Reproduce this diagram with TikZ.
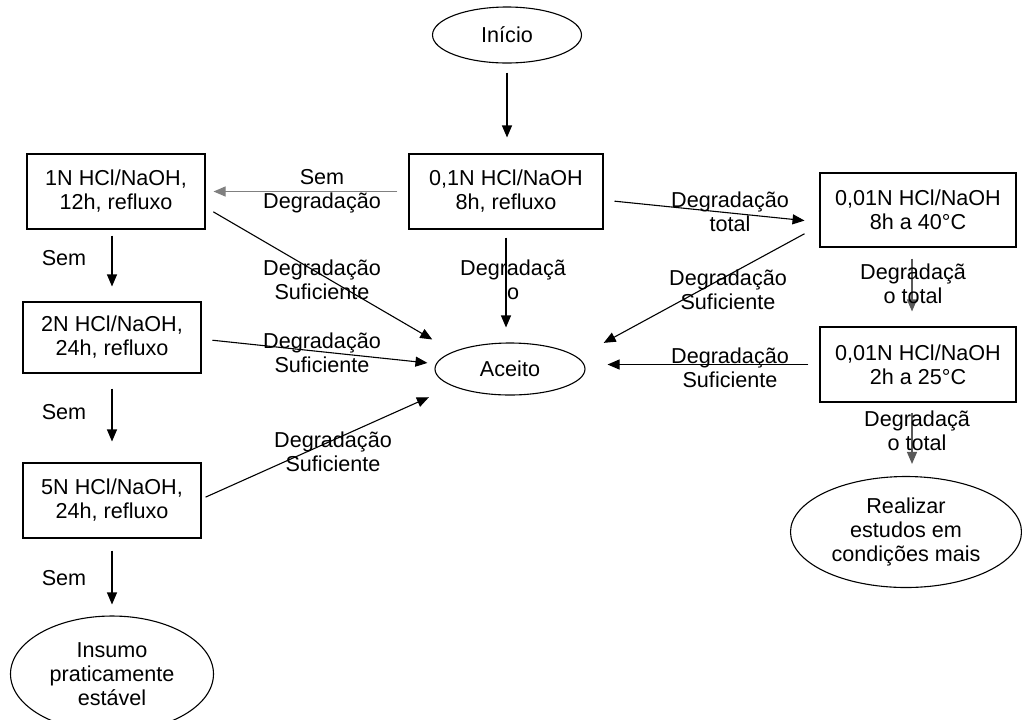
\documentclass[tikz,border=0pt]{standalone}
\usepackage{fontspec}
\setmainfont{Liberation Sans}
\usetikzlibrary{shapes.geometric,arrows.meta}

\begin{document}
\begin{tikzpicture}[x=0.5pt,y=-0.5pt,font=\fontsize{10.8}{12}\selectfont,
  caixa/.style={draw,line width=0.55pt,align=center,minimum width=89pt,minimum height=37.5pt,inner sep=0pt},
  elipse/.style={draw,ellipse,line width=0.55pt,align=center,inner sep=0pt},
  rotulo/.style={align=center,inner sep=0pt},
  seta/.style={line width=0.55pt,-{Triangle[length=6pt,width=5pt]}}]
\useasboundingbox (0,0) rectangle (1022,719);
\node[elipse,minimum width=74.5pt,minimum height=28pt] (inicio) at (507,35) {Início};
\node[caixa,minimum width=97pt] (n01) at (506,191.5) {0,1N HCl/NaOH\\8h, refluxo};
\node[caixa] (n1) at (116,191.5) {1N HCl/NaOH,\\12h, refluxo};
\node[caixa,minimum height=35.5pt] (n2) at (112,337.5) {2N HCl/NaOH,\\24h, refluxo};
\node[caixa] (n5) at (112,500.5) {5N HCl/NaOH,\\24h, refluxo};
\node[elipse,minimum width=101.5pt,minimum height=58pt] (insumo) at (112,674) {Insumo\\praticamente\\estável};
\node[elipse,minimum width=75pt,minimum height=26pt] (aceito) at (510,369) {Aceito};
\node[caixa,minimum width=98pt,minimum height=37pt] (t1) at (918,210) {0,01N HCl/NaOH\\8h a 40°C};
\node[caixa,minimum width=98pt,minimum height=37.5pt] (t2) at (918,364.5) {0,01N HCl/NaOH\\2h a 25°C};
\node[elipse,minimum width=115.5pt,minimum height=55.5pt] (real) at (906,532) {Realizar\\estudos em\\condições mais};

\draw[seta,shorten <=4.5pt,shorten >=8pt] (inicio.south) -- (inicio.south |- n01.north);
\draw[seta,gray,shorten <=5.5pt,shorten >=4pt] (n01.west) -- (n1.east);
\draw[seta,shorten <=4pt,shorten >=7.5pt] (n01.south) -- (n01.south |- aceito.north);
\draw[seta,shorten <=4.5pt,shorten >=12pt] (n1.-10.5) -- (aceito.163.5);
\draw[seta,shorten <=3pt,shorten >=7.5pt] (n2.north |- n1.south) -- (n2.north);
\draw[seta,shorten <=5.5pt,shorten >=4.25pt] (n2.-1.6) -- (aceito.176);
\draw[seta,shorten <=7.5pt,shorten >=10.5pt] (n2.south) -- (n5.north);
\draw[seta,shorten <=2.2pt,shorten >=13.2pt] (n5.1) -- (aceito.197.2);
\draw[seta,shorten <=6pt,shorten >=5.5pt] (n5.south) -- (insumo.north);
\draw[seta,shorten <=5.5pt,shorten >=7.5pt] (n01.-5.5) -- (t1.187.3);
\draw[seta,shorten <=8.5pt,shorten >=14.9pt] (t1.189.2) -- (aceito.10);
\draw[seta,gray!70!black,shorten <=5.5pt,shorten >=7.5pt] ([xshift=-3pt]t1.south) -- ([xshift=-3pt]t1.south |- t2.north);
\draw[seta,shorten <=5.5pt,shorten >=11pt] (t2.west) -- (t2.west -| aceito.east);
\draw[seta,gray!70!black,shorten <=5pt,shorten >=6pt] ([xshift=-3pt]t2.south) -- ([xshift=-3pt]t2.south |- real.north);

\node[rotulo] (lsem0) at (322,191) {Sem\\Degradação};
\node[rotulo] (lsuf1) at (322,280) {Degradação\\Suficiente};
\node[rotulo] (lsem1) at (64,258) {Sem};
\node[rotulo] (lsuf2) at (322,352.5) {Degradação\\Suficiente};
\node[rotulo] (lsem2) at (64,412) {Sem};
\node[rotulo] (lsuf5) at (333,452) {Degradação\\Suficiente};
\node[rotulo] (lsem3) at (64,578) {Sem};
\node[rotulo] (ldeg) at (513,280) {Degradaçã\\o};
\node[rotulo] (ltot) at (730,211.5) {Degradação\\total};
\node[rotulo] (lsuft) at (728,290) {Degradação\\Suficiente};
\node[rotulo] (ltot1) at (913,283.5) {Degradaçã\\o total};
\node[rotulo] (lsuft2) at (730,367.5) {Degradação\\Suficiente};
\node[rotulo] (ltot2) at (917,431) {Degradaçã\\o total};
\end{tikzpicture}
\end{document}
